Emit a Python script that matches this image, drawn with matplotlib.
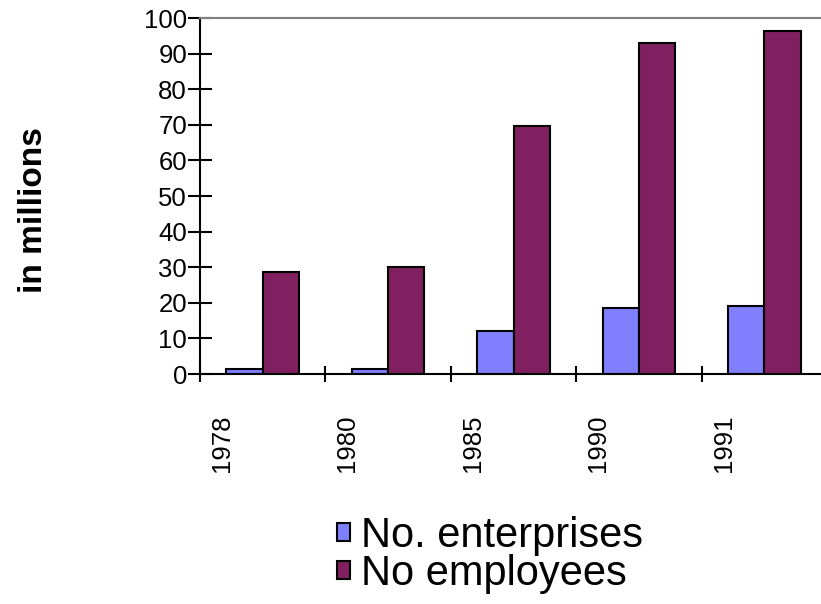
import matplotlib
matplotlib.use('Agg')
import matplotlib.pyplot as plt
from matplotlib.patches import Patch
import numpy as np

plt.rcParams['font.family'] = ['Liberation Sans', 'DejaVu Sans']

years = ['1978', '1980', '1985', '1990', '1991']
enterprises = [1.3, 1.4, 12.1, 18.4, 19.2]
employees = [28.6, 30.0, 69.8, 93.0, 96.3]

blue = '#8080FF'
purple = '#802060'

fig = plt.figure(figsize=(8.21, 6.04), dpi=100)
ax = fig.add_axes([200 / 821, 230 / 604, 627 / 821, 356 / 604])

x = np.arange(len(years))
w = 0.29
ax.bar(x + 0.5 - w / 2, enterprises, w, color=blue, edgecolor='black', linewidth=1.5)
ax.bar(x + 0.5 + w / 2, employees, w, color=purple, edgecolor='black', linewidth=1.5)

ax.set_xlim(0, 5)
ax.set_ylim(0, 100)

ax.spines['top'].set_color('#808080')
ax.spines['top'].set_linewidth(1.5)
ax.spines['right'].set_visible(False)
ax.spines['left'].set_linewidth(1.5)
ax.spines['bottom'].set_linewidth(1.5)

ax.set_yticks(range(0, 101, 10))
ax.tick_params(axis='y', direction='inout', length=17.3, width=1.5, pad=0.7, labelsize=18.5)

ax.set_xticks(x)
ax.set_xticklabels([])
ax.tick_params(axis='x', which='major', direction='inout', length=12.2, width=1.5)
ax.set_xticks(x + 0.176, minor=True)
ax.set_xticklabels(years, minor=True, rotation=90, fontsize=18.5, va='top', ha='center')
ax.tick_params(axis='x', which='minor', length=0, pad=29.5)

fig.text(33 / 821, 1 - 210 / 604, 'in millions', rotation=90, fontsize=24,
         fontweight='bold', ha='center', va='center')

handles = [Patch(facecolor=blue, edgecolor='black', linewidth=1.5),
           Patch(facecolor=purple, edgecolor='black', linewidth=1.5)]
fig.legend(handles, ['No. enterprises', 'No employees'], loc='upper left',
           bbox_to_anchor=(337 / 821, 1 - 516 / 604), frameon=False, fontsize=30,
           handlelength=0.3, handleheight=0.3, handletextpad=0.28,
           labelspacing=-0.05, borderpad=0, borderaxespad=0)

fig.savefig('out.png', dpi=100)
